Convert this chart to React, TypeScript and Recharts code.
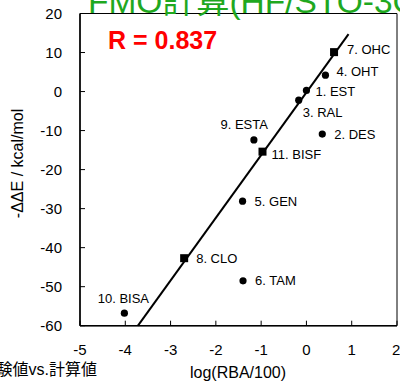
import { ScatterChart, Scatter, XAxis, YAxis, ReferenceLine, ReferenceArea } from "recharts";

const compounds = ["1. EST", "2. DES", "3. RAL", "4. OHT", "5. GEN", "6. TAM", "7. OHC", "8. CLO", "9. ESTA", "10. BISA", "11. BISF"];
const logRBA = [0.0, 0.35, -0.17, 0.42, -1.41, -1.4, 0.61, -2.7, -1.16, -4.02, -0.97];
const minusDDE = [0.3, -10.9, -2.2, 4.2, -28.1, -48.5, 10.1, -42.7, -12.4, -56.8, -15.4];
const squareCompounds = ["7. OHC", "8. CLO", "11. BISF"];

const fitX = [-3.72, 0.93];
const fitY = [-60, 14.7];

const xTicks = [-5, -4, -3, -2, -1, 0, 1, 2];
const yTicks = [-60, -50, -40, -30, -20, -10, 0, 10, 20];

const FONT = "Arial, 'Liberation Sans', 'Noto Sans CJK JP', sans-serif";

// where each label sits relative to its marker
const labelPlace: Record<string, { dx: number; dy: number; anchor: "start" | "middle" | "end" }> = {
  "1. EST": { dx: 9, dy: 1, anchor: "start" },
  "3. RAL": { dx: 4, dy: 12, anchor: "start" },
  "4. OHT": { dx: 11, dy: -4, anchor: "start" },
  "7. OHC": { dx: 13, dy: -3, anchor: "start" },
  "9. ESTA": { dx: 14, dy: -16, anchor: "end" },
  "10. BISA": { dx: -1, dy: -15, anchor: "middle" },
  "11. BISF": { dx: 9, dy: 3, anchor: "start" },
};

const points = compounds.map((name, i) => ({ name, x: logRBA[i], y: minusDDE[i] }));
const circles = points.filter(p => !squareCompounds.includes(p.name));
const squares = points.filter(p => squareCompounds.includes(p.name));

function Marker(props: any) {
  const { cx, cy, payload, square } = props;
  const place = labelPlace[payload.name] || { dx: 12, dy: 0, anchor: "start" };
  return (
    <g>
      {square ? (
        <rect x={cx - 4} y={cy - 4} width={8} height={8} fill="#000" />
      ) : (
        <circle cx={cx} cy={cy} r={3.6} fill="#000" />
      )}
      <text
        x={cx + place.dx}
        y={cy + place.dy + 4.6}
        textAnchor={place.anchor}
        fontSize={13}
        fontFamily={FONT}
        fill="#000"
      >
        {payload.name}
      </text>
    </g>
  );
}

export default function App() {
  return (
    <div style={{ position: "absolute", left: 0, top: 0, width: 400, height: 385, background: "#fff" }}>
      <ScatterChart width={400} height={385} margin={{ top: 13.5, right: 3, bottom: 0, left: 0 }}>
        <XAxis
          type="number"
          dataKey="x"
          domain={[-5, 2]}
          ticks={xTicks}
          allowDataOverflow
          height={59.3}
          tickSize={-5}
          tickMargin={23.5}
          axisLine={{ stroke: "#000", strokeWidth: 1.5 }}
          tickLine={{ stroke: "#000" }}
          tick={{ fill: "#000", fontSize: 15, fontFamily: FONT }}
        />
        <YAxis
          type="number"
          dataKey="y"
          domain={[-60, 20]}
          ticks={yTicks}
          allowDataOverflow
          width={80}
          tickSize={-5}
          tickMargin={23}
          axisLine={{ stroke: "#000", strokeWidth: 1.5 }}
          tickLine={{ stroke: "#000" }}
          tick={{ fill: "#000", fontSize: 15, fontFamily: FONT }}
        />
        <ReferenceArea x1={-5} x2={2} y1={-60} y2={20} fill="none" stroke="#000" strokeWidth={1} />
        <ReferenceLine
          segment={[{ x: fitX[0], y: fitY[0] }, { x: fitX[1], y: fitY[1] }]}
          stroke="#000"
          strokeWidth={2}
        />
        <Scatter data={circles} isAnimationActive={false} shape={(p: any) => <Marker {...p} />} />
        <Scatter data={squares} isAnimationActive={false} shape={(p: any) => <Marker {...p} square />} />
      </ScatterChart>
      <svg width={400} height={385} style={{ position: "absolute", left: 0, top: 0, pointerEvents: "none" }}>
        <text x={88} y={13} fontSize={33.5} fontFamily={FONT} fill="#1fa81f">
          FMO計算(HF/STO-3G)
        </text>
        <text x={108} y={49} fontSize={25} fontWeight="bold" fontFamily={FONT} fill="#ff0000">
          R = 0.837
        </text>
        <text
          x={23}
          y={163.5}
          transform="rotate(-90 23 163.5)"
          textAnchor="middle"
          fontSize={16}
          fontFamily={FONT}
          fill="#000"
        >
          -ΔΔE / kcal/mol
        </text>
        <text x={238} y={378} textAnchor="middle" fontSize={16} fontFamily={FONT} fill="#000">
          log(RBA/100)
        </text>
        <text x={97} y={375} textAnchor="end" fontSize={16} fontFamily={FONT} fill="#000">
          実験値vs.計算値
        </text>
      </svg>
    </div>
  );
}
